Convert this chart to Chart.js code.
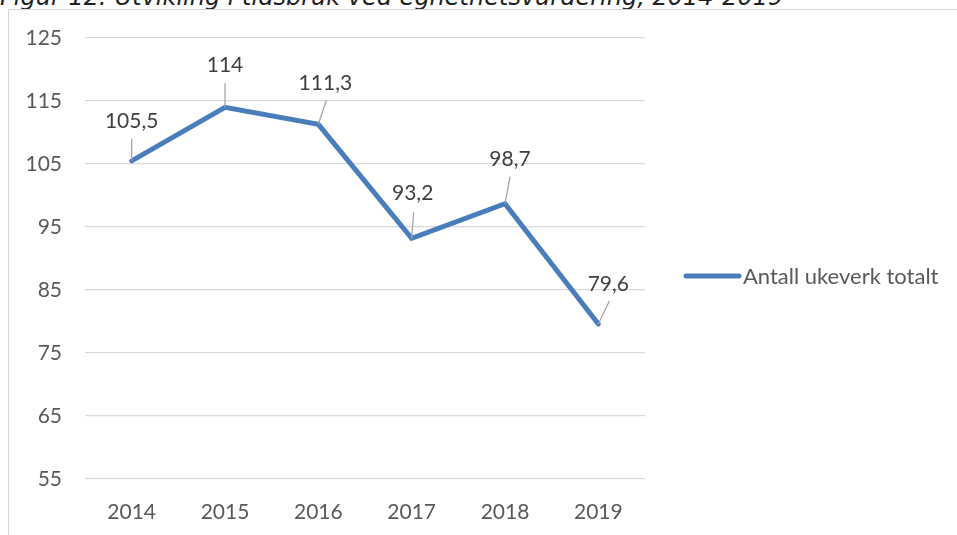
<!DOCTYPE html>
<html>
<head>
<meta charset="utf-8">
<script src="https://cdn.jsdelivr.net/npm/chart.js@4"></script>
<style>
  html, body { margin: 0; padding: 0; background: #fff; overflow: hidden; }
  #wrap { position: relative; width: 957px; height: 535px; }
  #title {
    position: absolute; left: 0; top: -15px; line-height: 24px;
    font-family: "DejaVu Sans", sans-serif; font-style: italic;
    font-size: 24px; color: #222; white-space: nowrap;
  }
  #frame {
    position: absolute; left: 8px; top: 9px; width: 960px; height: 540px;
    border: 1px solid #d4d4d4; box-sizing: border-box;
  }
  #chart { position: absolute; left: 0; top: 0; }
</style>
</head>
<body>
<div id="wrap">
  <div id="title">Figur 12: Utvikling i tidsbruk ved egnethetsvurdering, 2014-2019</div>
  <div id="frame"></div>
  <canvas id="chart" width="957" height="535"></canvas>
</div>
<script>
const years = ['2014', '2015', '2016', '2017', '2018', '2019'];
const ukeverk = [105.5, 114, 111.3, 93.2, 98.7, 79.6];
const seriesName = 'Antall ukeverk totalt';

// label placement relative to each point: [label dx, label dy, leader dx, leader dy]
const labelOffsets = [
  [0, -40, 0, -22],
  [0, -42, 0, -24],
  [7, -41, 8, -24],
  [1, -45, 2, -26],
  [5, -44, 5, -27],
  [10, -40, 11, -23]
];

const fmt = v => String(v).replace('.', ',');

const labelPlugin = {
  id: 'labelPlugin',
  afterDatasetsDraw(chart) {
    const ctx = chart.ctx;
    const meta = chart.getDatasetMeta(0);
    ctx.save();
    meta.data.forEach((pt, i) => {
      const o = labelOffsets[i];
      ctx.strokeStyle = '#a6a6a6';
      ctx.lineWidth = 1.3;
      ctx.beginPath();
      ctx.moveTo(pt.x, pt.y);
      ctx.lineTo(pt.x + o[2], pt.y + o[3]);
      ctx.stroke();
      ctx.fillStyle = '#404040';
      ctx.font = '21px Lato';
      ctx.textAlign = 'center';
      ctx.textBaseline = 'middle';
      ctx.fillText(fmt(ukeverk[i]), pt.x + o[0], pt.y + o[1]);
    });

    // legend
    const ds = chart.data.datasets[0];
    ctx.strokeStyle = ds.borderColor;
    ctx.lineWidth = 5;
    ctx.lineCap = 'round';
    ctx.beginPath();
    ctx.moveTo(686, 276);
    ctx.lineTo(739, 276);
    ctx.stroke();
    ctx.fillStyle = '#595959';
    ctx.font = '22px Lato';
    ctx.textAlign = 'left';
    ctx.textBaseline = 'middle';
    ctx.fillText(ds.label, 743, 277);
    ctx.restore();
  }
};

new Chart(document.getElementById('chart'), {
  type: 'line',
  data: {
    labels: years,
    datasets: [{
      label: seriesName,
      data: ukeverk,
      borderColor: '#4a7ebb',
      borderWidth: 5,
      borderCapStyle: 'round',
      pointRadius: 0,
      tension: 0,
      fill: false
    }]
  },
  options: {
    responsive: false,
    animation: false,
    layout: { padding: { left: 0, top: 38, right: 312, bottom: 0 } },
    plugins: {
      legend: { display: false },
      tooltip: { enabled: false }
    },
    scales: {
      x: {
        offset: true,
        grid: { display: false },
        border: { display: false },
        ticks: { color: '#595959', font: { family: 'Lato', size: 21 }, padding: 13 },
        afterFit: s => { s.height = 56; }
      },
      y: {
        min: 55,
        max: 125,
        ticks: { stepSize: 10, color: '#595959', font: { family: 'Lato', size: 21 }, padding: 23 },
        grid: { color: '#d9d9d9', lineWidth: 1.3, drawTicks: false },
        border: { display: false },
        afterFit: s => { s.width = 85; }
      }
    }
  },
  plugins: [labelPlugin]
});
</script>
</body>
</html>
